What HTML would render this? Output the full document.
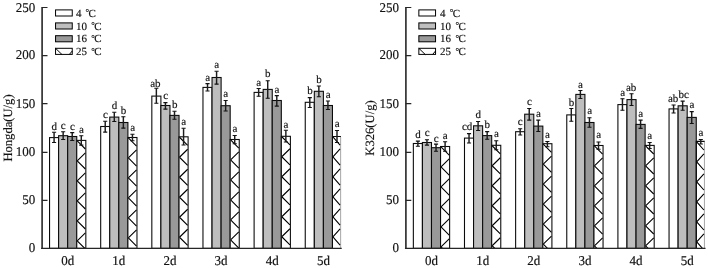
<!DOCTYPE html>
<html lang="en"><head><meta charset="utf-8"><title>Enzyme activity chart</title>
<style>html,body{margin:0;padding:0;background:#fff}body{width:708px;height:268px;overflow:hidden}svg{display:block}text{font-family:"Liberation Serif", serif;fill:#111;stroke:#111;stroke-width:0.16px;text-rendering:geometricPrecision}</style>
</head><body>
<svg width="708" height="268" viewBox="0 0 708 268">
<rect width="708" height="268" fill="#fff"/>
<g stroke="#0a0a0a" stroke-width="1.08">
<rect x="49.55" y="137.60" width="9.07" height="110.75" fill="#ffffff"/>
<rect x="58.62" y="135.70" width="9.07" height="112.65" fill="#bebebe"/>
<rect x="67.69" y="136.50" width="9.07" height="111.85" fill="#999999"/>
<rect x="76.76" y="140.40" width="9.07" height="107.95" fill="#ffffff"/>
<rect x="100.69" y="126.50" width="9.07" height="121.85" fill="#ffffff"/>
<rect x="109.76" y="117.10" width="9.07" height="131.25" fill="#bebebe"/>
<rect x="118.83" y="122.50" width="9.07" height="125.85" fill="#999999"/>
<rect x="127.90" y="137.50" width="9.07" height="110.85" fill="#ffffff"/>
<rect x="151.83" y="96.10" width="9.07" height="152.25" fill="#ffffff"/>
<rect x="160.90" y="105.50" width="9.07" height="142.85" fill="#bebebe"/>
<rect x="169.97" y="115.40" width="9.07" height="132.95" fill="#999999"/>
<rect x="179.04" y="136.80" width="9.07" height="111.55" fill="#ffffff"/>
<rect x="202.97" y="87.40" width="9.07" height="160.95" fill="#ffffff"/>
<rect x="212.04" y="77.50" width="9.07" height="170.85" fill="#bebebe"/>
<rect x="221.11" y="105.70" width="9.07" height="142.65" fill="#999999"/>
<rect x="230.18" y="139.50" width="9.07" height="108.85" fill="#ffffff"/>
<rect x="254.11" y="92.40" width="9.07" height="155.95" fill="#ffffff"/>
<rect x="263.18" y="89.40" width="9.07" height="158.95" fill="#bebebe"/>
<rect x="272.25" y="100.50" width="9.07" height="147.85" fill="#999999"/>
<rect x="281.32" y="136.30" width="9.07" height="112.05" fill="#ffffff"/>
<rect x="305.25" y="102.30" width="9.07" height="146.05" fill="#ffffff"/>
<rect x="314.32" y="91.30" width="9.07" height="157.05" fill="#bebebe"/>
<rect x="323.39" y="105.50" width="9.07" height="142.85" fill="#999999"/>
<path d="M332.46 248.35V136.50H340.93" fill="none"/>
<path d="M340.63 137.00V248.35" stroke="#a6a6a6" stroke-width="1" fill="none"/>
</g>
<defs><clipPath id="c0_0"><rect x="76.76" y="140.40" width="9.07" height="107.95"/></clipPath><clipPath id="c0_1"><rect x="127.90" y="137.50" width="9.07" height="110.85"/></clipPath><clipPath id="c0_2"><rect x="179.04" y="136.80" width="9.07" height="111.55"/></clipPath><clipPath id="c0_3"><rect x="230.18" y="139.50" width="9.07" height="108.85"/></clipPath><clipPath id="c0_4"><rect x="281.32" y="136.30" width="9.07" height="112.05"/></clipPath><clipPath id="c0_5"><rect x="332.46" y="136.50" width="9.07" height="111.85"/></clipPath></defs>
<g stroke="#000" stroke-width="1.1" fill="none"><path d="M77.21 140.85L85.38 149.00 M85.38 152.85L77.21 160.85 M77.21 160.85L85.38 169.00 M85.38 172.85L77.21 180.85 M77.21 180.85L85.38 189.00 M85.38 192.85L77.21 200.85 M77.21 200.85L85.38 209.00 M85.38 212.85L77.21 220.85 M77.21 220.85L85.38 229.00 M85.38 232.85L77.21 240.85 M77.21 240.85L85.38 249.00 M85.38 252.85L77.21 260.85" clip-path="url(#c0_0)"/><path d="M128.35 137.95L136.52 146.10 M136.52 149.95L128.35 157.95 M128.35 157.95L136.52 166.10 M136.52 169.95L128.35 177.95 M128.35 177.95L136.52 186.10 M136.52 189.95L128.35 197.95 M128.35 197.95L136.52 206.10 M136.52 209.95L128.35 217.95 M128.35 217.95L136.52 226.10 M136.52 229.95L128.35 237.95 M128.35 237.95L136.52 246.10 M136.52 249.95L128.35 257.95" clip-path="url(#c0_1)"/><path d="M179.49 137.25L187.66 145.40 M187.66 149.25L179.49 157.25 M179.49 157.25L187.66 165.40 M187.66 169.25L179.49 177.25 M179.49 177.25L187.66 185.40 M187.66 189.25L179.49 197.25 M179.49 197.25L187.66 205.40 M187.66 209.25L179.49 217.25 M179.49 217.25L187.66 225.40 M187.66 229.25L179.49 237.25 M179.49 237.25L187.66 245.40 M187.66 249.25L179.49 257.25" clip-path="url(#c0_2)"/><path d="M230.63 139.95L238.80 148.10 M238.80 151.95L230.63 159.95 M230.63 159.95L238.80 168.10 M238.80 171.95L230.63 179.95 M230.63 179.95L238.80 188.10 M238.80 191.95L230.63 199.95 M230.63 199.95L238.80 208.10 M238.80 211.95L230.63 219.95 M230.63 219.95L238.80 228.10 M238.80 231.95L230.63 239.95 M230.63 239.95L238.80 248.10 M238.80 251.95L230.63 259.95" clip-path="url(#c0_3)"/><path d="M281.77 136.75L289.94 144.90 M289.94 148.75L281.77 156.75 M281.77 156.75L289.94 164.90 M289.94 168.75L281.77 176.75 M281.77 176.75L289.94 184.90 M289.94 188.75L281.77 196.75 M281.77 196.75L289.94 204.90 M289.94 208.75L281.77 216.75 M281.77 216.75L289.94 224.90 M289.94 228.75L281.77 236.75 M281.77 236.75L289.94 244.90 M289.94 248.75L281.77 256.75" clip-path="url(#c0_4)"/><path d="M332.91 136.95L340.08 145.10 M340.08 148.95L332.91 156.95 M332.91 156.95L340.08 165.10 M340.08 168.95L332.91 176.95 M332.91 176.95L340.08 185.10 M340.08 188.95L332.91 196.95 M332.91 196.95L340.08 205.10 M340.08 208.95L332.91 216.95 M332.91 216.95L340.08 225.10 M340.08 228.95L332.91 236.95 M332.91 236.95L340.08 245.10 M340.08 248.95L332.91 256.95" clip-path="url(#c0_5)"/></g>
<g stroke="#111" fill="none">
<path stroke="#1c1c1c" stroke-width="1.45" d="M54.08 132.30V142.40"/>
<path stroke-width="1.05" d="M52.03 132.30h4.1M52.03 142.40h4.1"/>
<path stroke="#1c1c1c" stroke-width="1.45" d="M63.16 131.70V139.50"/>
<path stroke-width="1.05" d="M61.11 131.70h4.1M61.11 139.50h4.1"/>
<path stroke="#1c1c1c" stroke-width="1.45" d="M72.22 132.60V140.40"/>
<path stroke-width="1.05" d="M70.17 132.60h4.1M70.17 140.40h4.1"/>
<path stroke="#1c1c1c" stroke-width="1.45" d="M81.29 135.70V145.10"/>
<path stroke-width="1.05" d="M79.24 135.70h4.1M79.24 145.10h4.1"/>
<path stroke="#1c1c1c" stroke-width="1.45" d="M105.22 121.30V132.10"/>
<path stroke-width="1.05" d="M103.17 121.30h4.1M103.17 132.10h4.1"/>
<path stroke="#1c1c1c" stroke-width="1.45" d="M114.29 112.30V121.50"/>
<path stroke-width="1.05" d="M112.24 112.30h4.1M112.24 121.50h4.1"/>
<path stroke="#1c1c1c" stroke-width="1.45" d="M123.36 116.70V128.10"/>
<path stroke-width="1.05" d="M121.31 116.70h4.1M121.31 128.10h4.1"/>
<path stroke="#1c1c1c" stroke-width="1.45" d="M132.44 134.30V140.70"/>
<path stroke-width="1.05" d="M130.38 134.30h4.1M130.38 140.70h4.1"/>
<path stroke="#1c1c1c" stroke-width="1.45" d="M156.36 88.30V103.20"/>
<path stroke-width="1.05" d="M154.31 88.30h4.1M154.31 103.20h4.1"/>
<path stroke="#1c1c1c" stroke-width="1.45" d="M165.43 102.60V109.10"/>
<path stroke-width="1.05" d="M163.38 102.60h4.1M163.38 109.10h4.1"/>
<path stroke="#1c1c1c" stroke-width="1.45" d="M174.50 111.30V119.30"/>
<path stroke-width="1.05" d="M172.45 111.30h4.1M172.45 119.30h4.1"/>
<path stroke="#1c1c1c" stroke-width="1.45" d="M183.57 128.30V144.90"/>
<path stroke-width="1.05" d="M181.52 128.30h4.1M181.52 144.90h4.1"/>
<path stroke="#1c1c1c" stroke-width="1.45" d="M207.51 83.60V90.90"/>
<path stroke-width="1.05" d="M205.46 83.60h4.1M205.46 90.90h4.1"/>
<path stroke="#1c1c1c" stroke-width="1.45" d="M216.58 71.30V84.10"/>
<path stroke-width="1.05" d="M214.53 71.30h4.1M214.53 84.10h4.1"/>
<path stroke="#1c1c1c" stroke-width="1.45" d="M225.65 100.50V110.90"/>
<path stroke-width="1.05" d="M223.59 100.50h4.1M223.59 110.90h4.1"/>
<path stroke="#1c1c1c" stroke-width="1.45" d="M234.72 135.40V143.70"/>
<path stroke-width="1.05" d="M232.67 135.40h4.1M232.67 143.70h4.1"/>
<path stroke="#1c1c1c" stroke-width="1.45" d="M258.65 88.50V96.30"/>
<path stroke-width="1.05" d="M256.60 88.50h4.1M256.60 96.30h4.1"/>
<path stroke="#1c1c1c" stroke-width="1.45" d="M267.72 80.70V98.30"/>
<path stroke-width="1.05" d="M265.67 80.70h4.1M265.67 98.30h4.1"/>
<path stroke="#1c1c1c" stroke-width="1.45" d="M276.79 95.60V106.10"/>
<path stroke-width="1.05" d="M274.74 95.60h4.1M274.74 106.10h4.1"/>
<path stroke="#1c1c1c" stroke-width="1.45" d="M285.86 130.30V141.90"/>
<path stroke-width="1.05" d="M283.81 130.30h4.1M283.81 141.90h4.1"/>
<path stroke="#1c1c1c" stroke-width="1.45" d="M309.79 97.60V107.50"/>
<path stroke-width="1.05" d="M307.74 97.60h4.1M307.74 107.50h4.1"/>
<path stroke="#1c1c1c" stroke-width="1.45" d="M318.86 85.90V96.70"/>
<path stroke-width="1.05" d="M316.81 85.90h4.1M316.81 96.70h4.1"/>
<path stroke="#1c1c1c" stroke-width="1.45" d="M327.93 100.90V109.50"/>
<path stroke-width="1.05" d="M325.88 100.90h4.1M325.88 109.50h4.1"/>
<path stroke="#1c1c1c" stroke-width="1.45" d="M337.00 130.50V142.50"/>
<path stroke-width="1.05" d="M334.94 130.50h4.1M334.94 142.50h4.1"/>
</g>
<g font-size="11px" text-anchor="middle">
<text transform="translate(54.23 129.50) scale(1 1.000)">d</text>
<text transform="translate(63.30 128.60) scale(1 1.000)">c</text>
<text transform="translate(72.38 130.10) scale(1 1.000)">c</text>
<text transform="translate(81.44 133.20) scale(1 1.000)">a</text>
<text transform="translate(105.38 118.30) scale(1 1.000)">c</text>
<text transform="translate(114.44 108.70) scale(1 1.000)">d</text>
<text transform="translate(123.52 113.70) scale(1 1.000)">b</text>
<text transform="translate(132.59 131.30) scale(1 1.000)">a</text>
<text transform="translate(155.41 86.50) scale(1 1.000)">ab</text>
<text transform="translate(165.58 99.00) scale(1 1.000)">c</text>
<text transform="translate(174.65 108.10) scale(1 1.000)">b</text>
<text transform="translate(183.72 124.90) scale(1 1.000)">a</text>
<text transform="translate(207.66 80.80) scale(1 1.000)">a</text>
<text transform="translate(216.73 67.90) scale(1 1.000)">a</text>
<text transform="translate(225.80 97.40) scale(1 1.000)">a</text>
<text transform="translate(234.87 131.80) scale(1 1.000)">a</text>
<text transform="translate(258.80 85.60) scale(1 1.000)">a</text>
<text transform="translate(267.87 77.20) scale(1 1.000)">b</text>
<text transform="translate(276.94 92.50) scale(1 1.000)">a</text>
<text transform="translate(286.00 127.60) scale(1 1.000)">a</text>
<text transform="translate(309.94 94.30) scale(1 1.000)">b</text>
<text transform="translate(319.00 82.90) scale(1 1.000)">b</text>
<text transform="translate(328.07 97.60) scale(1 1.000)">a</text>
<text transform="translate(337.14 126.60) scale(1 1.000)">a</text>
</g>
<g stroke="#262626" fill="none">
<path stroke-width="1.6" d="M42.10 6.90V249.00"/>
<path stroke-width="1.3" d="M41.15 248.35H341.73"/>
<path stroke-width="1.1" d="M41.90 200.40h5.6M41.90 152.40h5.6M41.90 103.60h5.6M41.90 55.60h5.6M41.90 7.50h5.6"/>
</g>
<g font-size="13px" text-anchor="end">
<text transform="translate(35.30 252.20) scale(1 1.035)">0</text>
<text transform="translate(35.30 204.00) scale(1 1.035)">50</text>
<text transform="translate(35.30 155.90) scale(1 1.035)">100</text>
<text transform="translate(35.30 107.60) scale(1 1.035)">150</text>
<text transform="translate(35.30 59.40) scale(1 1.035)">200</text>
<text transform="translate(35.30 11.60) scale(1 1.035)">250</text>
</g>
<g font-size="13px" text-anchor="middle">
<text transform="translate(67.69 264.80) scale(1 1.035)">0d</text>
<text transform="translate(118.83 264.80) scale(1 1.035)">1d</text>
<text transform="translate(169.97 264.80) scale(1 1.035)">2d</text>
<text transform="translate(221.11 264.80) scale(1 1.035)">3d</text>
<text transform="translate(272.25 264.80) scale(1 1.035)">4d</text>
<text transform="translate(323.39 264.80) scale(1 1.035)">5d</text>
</g>
<text font-size="12.6px" text-anchor="middle" transform="translate(11.70 128.00) rotate(-90)">Hongda(U/g)</text>
<g stroke="#000" stroke-width="1">
<rect x="55.55" y="9.90" width="16.7" height="6.1" fill="#ffffff"/>
<rect x="55.55" y="22.90" width="16.7" height="6.1" fill="#bebebe"/>
<rect x="55.55" y="35.70" width="16.7" height="6.1" fill="#999999"/>
<rect x="55.55" y="48.30" width="16.7" height="6.1" fill="#ffffff"/>
<path fill="none" d="M55.55 48.30l6.5 6.3M69.35 54.40l2.9 -3.4"/>
</g>
<g font-size="11px">
<text transform="translate(75.90 16.50) scale(1 1.000)">4</text>
<text transform="translate(85.50 15.30) scale(1 1.000)" font-size="8.8px">°</text>
<text transform="translate(88.60 16.50) scale(1 1.000)">C</text>
<text transform="translate(75.90 29.50) scale(1 1.000)">10</text>
<text transform="translate(91.20 28.30) scale(1 1.000)" font-size="8.8px">°</text>
<text transform="translate(94.30 29.50) scale(1 1.000)">C</text>
<text transform="translate(75.90 42.30) scale(1 1.000)">16</text>
<text transform="translate(91.20 41.10) scale(1 1.000)" font-size="8.8px">°</text>
<text transform="translate(94.30 42.30) scale(1 1.000)">C</text>
<text transform="translate(75.90 54.90) scale(1 1.000)">25</text>
<text transform="translate(91.20 53.70) scale(1 1.000)" font-size="8.8px">°</text>
<text transform="translate(94.30 54.90) scale(1 1.000)">C</text>
</g>
<g stroke="#0a0a0a" stroke-width="1.08">
<rect x="413.35" y="143.50" width="9.07" height="104.85" fill="#ffffff"/>
<rect x="422.42" y="142.50" width="9.07" height="105.85" fill="#bebebe"/>
<rect x="431.49" y="147.70" width="9.07" height="100.65" fill="#999999"/>
<rect x="440.56" y="146.50" width="9.07" height="101.85" fill="#ffffff"/>
<rect x="464.49" y="138.10" width="9.07" height="110.25" fill="#ffffff"/>
<rect x="473.56" y="125.80" width="9.07" height="122.55" fill="#bebebe"/>
<rect x="482.63" y="135.60" width="9.07" height="112.75" fill="#999999"/>
<rect x="491.70" y="145.30" width="9.07" height="103.05" fill="#ffffff"/>
<rect x="515.63" y="131.70" width="9.07" height="116.65" fill="#ffffff"/>
<rect x="524.70" y="114.20" width="9.07" height="134.15" fill="#bebebe"/>
<rect x="533.77" y="126.10" width="9.07" height="122.25" fill="#999999"/>
<rect x="542.84" y="143.70" width="9.07" height="104.65" fill="#ffffff"/>
<rect x="566.77" y="114.90" width="9.07" height="133.45" fill="#ffffff"/>
<rect x="575.84" y="94.40" width="9.07" height="153.95" fill="#bebebe"/>
<rect x="584.91" y="122.50" width="9.07" height="125.85" fill="#999999"/>
<rect x="593.98" y="145.50" width="9.07" height="102.85" fill="#ffffff"/>
<rect x="617.91" y="104.60" width="9.07" height="143.75" fill="#ffffff"/>
<rect x="626.98" y="99.60" width="9.07" height="148.75" fill="#bebebe"/>
<rect x="636.05" y="124.40" width="9.07" height="123.95" fill="#999999"/>
<rect x="645.12" y="145.40" width="9.07" height="102.95" fill="#ffffff"/>
<rect x="669.05" y="108.90" width="9.07" height="139.45" fill="#ffffff"/>
<rect x="678.12" y="105.80" width="9.07" height="142.55" fill="#bebebe"/>
<rect x="687.19" y="117.40" width="9.07" height="130.95" fill="#999999"/>
<path d="M696.26 248.35V141.40H704.73" fill="none"/>
<path d="M704.43 141.90V248.35" stroke="#a6a6a6" stroke-width="1" fill="none"/>
</g>
<defs><clipPath id="c1_0"><rect x="440.56" y="146.50" width="9.07" height="101.85"/></clipPath><clipPath id="c1_1"><rect x="491.70" y="145.30" width="9.07" height="103.05"/></clipPath><clipPath id="c1_2"><rect x="542.84" y="143.70" width="9.07" height="104.65"/></clipPath><clipPath id="c1_3"><rect x="593.98" y="145.50" width="9.07" height="102.85"/></clipPath><clipPath id="c1_4"><rect x="645.12" y="145.40" width="9.07" height="102.95"/></clipPath><clipPath id="c1_5"><rect x="696.26" y="141.40" width="9.07" height="106.95"/></clipPath></defs>
<g stroke="#000" stroke-width="1.1" fill="none"><path d="M441.01 146.95L449.18 155.10 M449.18 158.95L441.01 166.95 M441.01 166.95L449.18 175.10 M449.18 178.95L441.01 186.95 M441.01 186.95L449.18 195.10 M449.18 198.95L441.01 206.95 M441.01 206.95L449.18 215.10 M449.18 218.95L441.01 226.95 M441.01 226.95L449.18 235.10 M449.18 238.95L441.01 246.95 M441.01 246.95L449.18 255.10 M449.18 258.95L441.01 266.95" clip-path="url(#c1_0)"/><path d="M492.15 145.75L500.32 153.90 M500.32 157.75L492.15 165.75 M492.15 165.75L500.32 173.90 M500.32 177.75L492.15 185.75 M492.15 185.75L500.32 193.90 M500.32 197.75L492.15 205.75 M492.15 205.75L500.32 213.90 M500.32 217.75L492.15 225.75 M492.15 225.75L500.32 233.90 M500.32 237.75L492.15 245.75 M492.15 245.75L500.32 253.90 M500.32 257.75L492.15 265.75" clip-path="url(#c1_1)"/><path d="M543.29 144.15L551.46 152.30 M551.46 156.15L543.29 164.15 M543.29 164.15L551.46 172.30 M551.46 176.15L543.29 184.15 M543.29 184.15L551.46 192.30 M551.46 196.15L543.29 204.15 M543.29 204.15L551.46 212.30 M551.46 216.15L543.29 224.15 M543.29 224.15L551.46 232.30 M551.46 236.15L543.29 244.15 M543.29 244.15L551.46 252.30 M551.46 256.15L543.29 264.15" clip-path="url(#c1_2)"/><path d="M594.43 145.95L602.60 154.10 M602.60 157.95L594.43 165.95 M594.43 165.95L602.60 174.10 M602.60 177.95L594.43 185.95 M594.43 185.95L602.60 194.10 M602.60 197.95L594.43 205.95 M594.43 205.95L602.60 214.10 M602.60 217.95L594.43 225.95 M594.43 225.95L602.60 234.10 M602.60 237.95L594.43 245.95 M594.43 245.95L602.60 254.10 M602.60 257.95L594.43 265.95" clip-path="url(#c1_3)"/><path d="M645.57 145.85L653.74 154.00 M653.74 157.85L645.57 165.85 M645.57 165.85L653.74 174.00 M653.74 177.85L645.57 185.85 M645.57 185.85L653.74 194.00 M653.74 197.85L645.57 205.85 M645.57 205.85L653.74 214.00 M653.74 217.85L645.57 225.85 M645.57 225.85L653.74 234.00 M653.74 237.85L645.57 245.85 M645.57 245.85L653.74 254.00 M653.74 257.85L645.57 265.85" clip-path="url(#c1_4)"/><path d="M696.71 141.85L703.88 150.00 M703.88 153.85L696.71 161.85 M696.71 161.85L703.88 170.00 M703.88 173.85L696.71 181.85 M696.71 181.85L703.88 190.00 M703.88 193.85L696.71 201.85 M696.71 201.85L703.88 210.00 M703.88 213.85L696.71 221.85 M696.71 221.85L703.88 230.00 M703.88 233.85L696.71 241.85 M696.71 241.85L703.88 250.00 M703.88 253.85L696.71 261.85" clip-path="url(#c1_5)"/></g>
<g stroke="#111" fill="none">
<path stroke="#1c1c1c" stroke-width="1.45" d="M417.89 141.10V146.30"/>
<path stroke-width="1.05" d="M415.84 141.10h4.1M415.84 146.30h4.1"/>
<path stroke="#1c1c1c" stroke-width="1.45" d="M426.96 139.70V145.10"/>
<path stroke-width="1.05" d="M424.91 139.70h4.1M424.91 145.10h4.1"/>
<path stroke="#1c1c1c" stroke-width="1.45" d="M436.03 144.10V151.30"/>
<path stroke-width="1.05" d="M433.98 144.10h4.1M433.98 151.30h4.1"/>
<path stroke="#1c1c1c" stroke-width="1.45" d="M445.10 141.70V151.30"/>
<path stroke-width="1.05" d="M443.05 141.70h4.1M443.05 151.30h4.1"/>
<path stroke="#1c1c1c" stroke-width="1.45" d="M469.03 133.60V142.90"/>
<path stroke-width="1.05" d="M466.98 133.60h4.1M466.98 142.90h4.1"/>
<path stroke="#1c1c1c" stroke-width="1.45" d="M478.10 121.50V130.50"/>
<path stroke-width="1.05" d="M476.05 121.50h4.1M476.05 130.50h4.1"/>
<path stroke="#1c1c1c" stroke-width="1.45" d="M487.17 131.60V139.30"/>
<path stroke-width="1.05" d="M485.12 131.60h4.1M485.12 139.30h4.1"/>
<path stroke="#1c1c1c" stroke-width="1.45" d="M496.24 140.70V149.70"/>
<path stroke-width="1.05" d="M494.19 140.70h4.1M494.19 149.70h4.1"/>
<path stroke="#1c1c1c" stroke-width="1.45" d="M520.16 128.70V134.90"/>
<path stroke-width="1.05" d="M518.12 128.70h4.1M518.12 134.90h4.1"/>
<path stroke="#1c1c1c" stroke-width="1.45" d="M529.24 108.50V120.10"/>
<path stroke-width="1.05" d="M527.19 108.50h4.1M527.19 120.10h4.1"/>
<path stroke="#1c1c1c" stroke-width="1.45" d="M538.30 120.10V131.40"/>
<path stroke-width="1.05" d="M536.25 120.10h4.1M536.25 131.40h4.1"/>
<path stroke="#1c1c1c" stroke-width="1.45" d="M547.38 141.40V146.70"/>
<path stroke-width="1.05" d="M545.33 141.40h4.1M545.33 146.70h4.1"/>
<path stroke="#1c1c1c" stroke-width="1.45" d="M571.30 108.50V121.30"/>
<path stroke-width="1.05" d="M569.25 108.50h4.1M569.25 121.30h4.1"/>
<path stroke="#1c1c1c" stroke-width="1.45" d="M580.38 90.50V98.50"/>
<path stroke-width="1.05" d="M578.33 90.50h4.1M578.33 98.50h4.1"/>
<path stroke="#1c1c1c" stroke-width="1.45" d="M589.44 117.70V127.20"/>
<path stroke-width="1.05" d="M587.39 117.70h4.1M587.39 127.20h4.1"/>
<path stroke="#1c1c1c" stroke-width="1.45" d="M598.51 141.90V149.30"/>
<path stroke-width="1.05" d="M596.47 141.90h4.1M596.47 149.30h4.1"/>
<path stroke="#1c1c1c" stroke-width="1.45" d="M622.45 98.70V110.30"/>
<path stroke-width="1.05" d="M620.40 98.70h4.1M620.40 110.30h4.1"/>
<path stroke="#1c1c1c" stroke-width="1.45" d="M631.52 93.70V105.40"/>
<path stroke-width="1.05" d="M629.47 93.70h4.1M629.47 105.40h4.1"/>
<path stroke="#1c1c1c" stroke-width="1.45" d="M640.59 120.10V128.40"/>
<path stroke-width="1.05" d="M638.54 120.10h4.1M638.54 128.40h4.1"/>
<path stroke="#1c1c1c" stroke-width="1.45" d="M649.66 142.50V148.50"/>
<path stroke-width="1.05" d="M647.61 142.50h4.1M647.61 148.50h4.1"/>
<path stroke="#1c1c1c" stroke-width="1.45" d="M673.58 104.90V113.00"/>
<path stroke-width="1.05" d="M671.53 104.90h4.1M671.53 113.00h4.1"/>
<path stroke="#1c1c1c" stroke-width="1.45" d="M682.65 101.10V110.30"/>
<path stroke-width="1.05" d="M680.61 101.10h4.1M680.61 110.30h4.1"/>
<path stroke="#1c1c1c" stroke-width="1.45" d="M691.72 111.60V123.50"/>
<path stroke-width="1.05" d="M689.67 111.60h4.1M689.67 123.50h4.1"/>
<path stroke="#1c1c1c" stroke-width="1.45" d="M700.79 139.40V143.90"/>
<path stroke-width="1.05" d="M698.75 139.40h4.1M698.75 143.90h4.1"/>
</g>
<g font-size="11px" text-anchor="middle">
<text transform="translate(418.04 138.10) scale(1 1.000)">d</text>
<text transform="translate(427.11 136.30) scale(1 1.000)">c</text>
<text transform="translate(436.18 141.80) scale(1 1.000)">c</text>
<text transform="translate(445.25 138.70) scale(1 1.000)">a</text>
<text transform="translate(467.18 129.60) scale(1 1.000)">cd</text>
<text transform="translate(478.25 118.00) scale(1 1.000)">d</text>
<text transform="translate(487.31 127.80) scale(1 1.000)">b</text>
<text transform="translate(496.38 137.30) scale(1 1.000)">a</text>
<text transform="translate(520.31 125.20) scale(1 1.000)">c</text>
<text transform="translate(529.38 105.20) scale(1 1.000)">c</text>
<text transform="translate(538.45 116.80) scale(1 1.000)">a</text>
<text transform="translate(547.52 137.70) scale(1 1.000)">a</text>
<text transform="translate(571.45 105.50) scale(1 1.000)">b</text>
<text transform="translate(580.52 87.60) scale(1 1.000)">a</text>
<text transform="translate(589.59 114.00) scale(1 1.000)">a</text>
<text transform="translate(598.66 138.40) scale(1 1.000)">a</text>
<text transform="translate(622.60 95.80) scale(1 1.000)">a</text>
<text transform="translate(631.07 90.60) scale(1 1.000)">ab</text>
<text transform="translate(640.74 116.70) scale(1 1.000)">a</text>
<text transform="translate(649.81 138.60) scale(1 1.000)">a</text>
<text transform="translate(673.13 101.60) scale(1 1.000)">ab</text>
<text transform="translate(683.70 97.70) scale(1 1.000)">bc</text>
<text transform="translate(691.87 108.20) scale(1 1.000)">a</text>
<text transform="translate(700.94 135.80) scale(1 1.000)">a</text>
</g>
<g stroke="#262626" fill="none">
<path stroke-width="1.6" d="M405.90 6.90V249.00"/>
<path stroke-width="1.3" d="M404.95 248.35H705.53"/>
<path stroke-width="1.1" d="M405.70 200.40h5.6M405.70 152.40h5.6M405.70 103.60h5.6M405.70 55.60h5.6M405.70 7.50h5.6"/>
</g>
<g font-size="13px" text-anchor="end">
<text transform="translate(399.10 252.20) scale(1 1.035)">0</text>
<text transform="translate(399.10 204.00) scale(1 1.035)">50</text>
<text transform="translate(399.10 155.90) scale(1 1.035)">100</text>
<text transform="translate(399.10 107.60) scale(1 1.035)">150</text>
<text transform="translate(399.10 59.40) scale(1 1.035)">200</text>
<text transform="translate(399.10 11.60) scale(1 1.035)">250</text>
</g>
<g font-size="13px" text-anchor="middle">
<text transform="translate(431.49 264.80) scale(1 1.035)">0d</text>
<text transform="translate(482.63 264.80) scale(1 1.035)">1d</text>
<text transform="translate(533.77 264.80) scale(1 1.035)">2d</text>
<text transform="translate(584.91 264.80) scale(1 1.035)">3d</text>
<text transform="translate(636.05 264.80) scale(1 1.035)">4d</text>
<text transform="translate(687.19 264.80) scale(1 1.035)">5d</text>
</g>
<text font-size="12.6px" text-anchor="middle" transform="translate(374.10 128.00) rotate(-90)">K326(U/g)</text>
<g stroke="#000" stroke-width="1">
<rect x="418.85" y="9.90" width="16.7" height="6.1" fill="#ffffff"/>
<rect x="418.85" y="22.90" width="16.7" height="6.1" fill="#bebebe"/>
<rect x="418.85" y="35.70" width="16.7" height="6.1" fill="#999999"/>
<rect x="418.85" y="48.30" width="16.7" height="6.1" fill="#ffffff"/>
<path fill="none" d="M418.85 48.30l6.5 6.3M432.65 54.40l2.9 -3.4"/>
</g>
<g font-size="11px">
<text transform="translate(440.10 16.50) scale(1 1.000)">4</text>
<text transform="translate(449.70 15.30) scale(1 1.000)" font-size="8.8px">°</text>
<text transform="translate(452.80 16.50) scale(1 1.000)">C</text>
<text transform="translate(440.10 29.50) scale(1 1.000)">10</text>
<text transform="translate(455.40 28.30) scale(1 1.000)" font-size="8.8px">°</text>
<text transform="translate(458.50 29.50) scale(1 1.000)">C</text>
<text transform="translate(440.10 42.30) scale(1 1.000)">16</text>
<text transform="translate(455.40 41.10) scale(1 1.000)" font-size="8.8px">°</text>
<text transform="translate(458.50 42.30) scale(1 1.000)">C</text>
<text transform="translate(440.10 54.90) scale(1 1.000)">25</text>
<text transform="translate(455.40 53.70) scale(1 1.000)" font-size="8.8px">°</text>
<text transform="translate(458.50 54.90) scale(1 1.000)">C</text>
</g>
</svg></body></html>
